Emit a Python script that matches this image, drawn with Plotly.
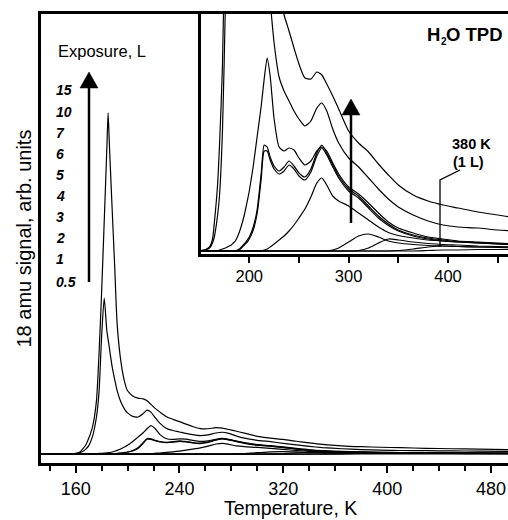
import plotly.graph_objects as go

# Temperature grid (K) shared by all TPD traces
temperature = [130, 145, 155, 160, 163, 165, 168, 170, 173, 176,
               178, 180, 182, 184, 185, 186, 188, 190, 192, 195,
               198, 200, 204, 208, 212, 215, 218, 221, 225, 230,
               235, 240, 245, 250, 256, 262, 268, 273, 278, 284,
               290, 300, 310, 320, 330, 340, 350, 365, 380, 395,
               410, 430, 450, 470, 495]

# 18 amu desorption signal (arb. units) for each water exposure (L)
sig_15 = [0, 0, 1, 4, 12, 30, 65, 105, 185, 360,
          680, 1100, 1580, 2070, 2320, 2100, 1690, 1290, 880, 620,
          480, 430, 395, 380, 375, 362, 338, 312, 285, 254,
          236, 220, 203, 187, 173, 172, 179, 176, 167, 155,
          142, 120, 108, 99, 87, 76, 66, 56, 50, 46,
          43, 39, 36, 33, 30]
sig_10 = [0, 0, 1, 3, 8, 15, 35, 55, 120, 250,
          420, 800, 1060, 840, 780, 720, 600, 510, 430, 350,
          300, 280, 256, 252, 275, 298, 285, 250, 208, 174,
          160, 150, 140, 132, 125, 130, 143, 148, 140, 122,
          108, 93, 84, 73, 62, 52, 44, 36, 30, 26,
          24, 23, 21, 20, 18]
sig_7 = [0, 0, 0, 0, 0, 0, 0, 1, 2, 3,
         4, 5, 6, 8, 9, 10, 14, 19, 25, 36,
         50, 60, 85, 115, 145, 172, 193, 175, 132, 104,
         100, 103, 101, 93, 86, 90, 100, 104, 100, 88,
         77, 64, 57, 48, 38, 29, 23, 18, 14, 12,
         10, 9, 8, 7, 6]
sig_6 = [0, 0, 0, 0, 0, 0, 0, 0, 0, 0,
         0, 0, 0, 0, 0, 0, 1, 2, 4, 7,
         11, 14, 24, 42, 78, 106, 104, 94, 85, 80,
         84, 90, 85, 78, 74, 82, 98, 106, 98, 86,
         75, 62, 55, 45, 35, 27, 21, 16, 13, 11,
         9.5, 8.5, 7.5, 6.5, 5.5]
sig_5 = [0, 0, 0, 0, 0, 0, 0, 0, 0, 0,
         0, 0, 0, 0, 0, 0, 0, 1, 3, 6,
         9, 12, 21, 38, 72, 100, 100, 91, 82, 77,
         80, 86, 82, 75, 71, 79, 95, 103, 96, 84,
         73, 60, 53, 43, 33, 25.5, 20, 15, 12, 10,
         9, 8, 7, 6, 5]
sig_4 = [0, 0, 0, 0, 0, 0, 0, 0, 0, 0,
         0, 0, 0, 0, 0, 0, 0, 0, 0, 0,
         0, 0, 0, 0, 0, 1, 2, 4, 7, 11,
         15, 20, 26, 33, 42, 54, 68, 73, 66, 55,
         50, 45, 38, 31, 24, 18.5, 15.5, 13, 11, 10,
         9, 8, 7, 6, 5]
sig_3 = [0, 0, 0, 0, 0, 0, 0, 0, 0, 0,
         0, 0, 0, 0, 0, 0, 0, 0, 0, 0,
         0, 0, 0, 0, 0, 0, 0, 0, 0, 0,
         0, 0, 0, 0, 0, 0, 0, 0, 0, 1,
         3, 9, 15, 17, 14, 10, 8, 6.5, 5.5, 5,
         4.5, 4, 4, 3.5, 3]
sig_2 = [0, 0, 0, 0, 0, 0, 0, 0, 0, 0,
         0, 0, 0, 0, 0, 0, 0, 0, 0, 0,
         0, 0, 0, 0, 0, 0, 0, 0, 0, 0,
         0, 0, 0, 0, 0, 0, 0, 0, 0, 0,
         0, 0, 0.5, 3, 8, 12, 11, 9, 7.5, 6.5,
         6, 5, 4.5, 4, 3.5]
sig_1 = [0, 0, 0, 0, 0, 0, 0, 0, 0, 0,
         0, 0, 0, 0, 0, 0, 0, 0, 0, 0,
         0, 0, 0, 0, 0, 0, 0, 0, 0, 0,
         0, 0, 0, 0, 0, 0, 0, 0, 0, 0,
         0, 0, 0, 0, 0, 0, 0.5, 2, 4, 5,
         4.5, 4, 3.5, 3, 3]
sig_05 = [0, 0, 0, 0, 0, 0, 0, 0, 0, 0,
          0, 0, 0, 0, 0, 0, 0, 0, 0, 0,
          0, 0, 0, 0, 0, 0, 0, 0, 0, 0,
          0, 0, 0, 0, 0, 0, 0, 0, 0, 0,
          0, 0, 0, 0, 0, 0, 0, 0, 0.5, 1,
          1, 1.5, 1.5, 1.5, 1.5]

series = [sig_15, sig_10, sig_7, sig_6, sig_5, sig_4, sig_3, sig_2, sig_1, sig_05]
exposure_labels = ["15", "10", "7", "6", "5", "4", "3", "2", "1", "0.5"]

main_ticks = [160, 240, 320, 400, 480]
inset_ticks = [200, 300, 400]

W, H = 508, 520
ML, MR, MT, MB = 41, 0, 14, 57
PW, PH = W - ML - MR, H - MT - MB


def px(x, y):
    """Convert a position in page pixels to paper coordinates."""
    return (x - ML) / PW, (H - MB - y) / PH


FONT = "Liberation Sans, Arial, sans-serif"

fig = go.Figure()
for sig in series:
    for xa, ya in (("x", "y"), ("x2", "y2")):
        fig.add_trace(go.Scatter(
            x=temperature, y=sig, mode="lines", xaxis=xa, yaxis=ya,
            line=dict(color="black", width=1.2, shape="spline", smoothing=0.6),
            hoverinfo="skip", showlegend=False))

ix0, _ = px(200.5, 0)
_, iy0 = px(0, 253.5)

fig.update_layout(
    width=W, height=H,
    margin=dict(l=ML, r=MR, t=MT, b=MB),
    paper_bgcolor="white", plot_bgcolor="white",
    font=dict(family=FONT, color="black"),
    showlegend=False,
    xaxis=dict(domain=[0, 1], range=[133.3, 493.1], showline=True, linewidth=3,
               linecolor="black", mirror=True, ticks="outside", ticklen=7, tickwidth=1.5,
               tickcolor="black", tickmode="array", tickvals=main_ticks,
               tickfont=dict(size=18), showgrid=False, zeroline=False,
               minor=dict(ticks="outside", ticklen=5, tickwidth=1.5, tickcolor="black",
                          tickmode="linear", tick0=160, dtick=20, showgrid=False)),
    yaxis=dict(domain=[0, 1], range=[-61, 2992], showline=True, linewidth=3,
               linecolor="black", ticks="", showticklabels=False, showgrid=False,
               zeroline=False),
    xaxis2=dict(domain=[ix0, 1], anchor="y2", range=[150.9, 460.4], showline=True,
                linewidth=3, linecolor="black", ticks="outside", ticklen=6, tickwidth=1.5,
                tickcolor="black", tickmode="array", tickvals=inset_ticks,
                tickfont=dict(size=16.5), showgrid=False, zeroline=False,
                minor=dict(ticks="outside", ticklen=6, tickwidth=1.5, tickcolor="black",
                           tickmode="linear", tick0=200, dtick=50, showgrid=False)),
    yaxis2=dict(domain=[iy0, 1], anchor="x2", range=[-2.5, 237], showline=True,
                linewidth=3, linecolor="black", ticks="", showticklabels=False,
                showgrid=False, zeroline=False),
)

annotations = []


def add_text(text, x, y, size, xanchor="center", yanchor="middle", angle=0):
    ax, ay = px(x, y)
    annotations.append(dict(text=text, x=ax, y=ay, xref="paper", yref="paper",
                            showarrow=False, xanchor=xanchor, yanchor=yanchor,
                            textangle=angle, font=dict(size=size, family=FONT, color="black"),
                            borderpad=0))


add_text("18 amu signal, arb. units", 23, 238.5, 20, angle=-90)
add_text("Temperature, K", 290, 508, 19.5)
add_text("Exposure, L", 57, 51, 16.5, xanchor="left")
label_y = [90, 112, 133, 154, 175, 196, 217, 238, 259, 282]
for lab, yy in zip(exposure_labels, label_y):
    add_text("<b><i>%s</i></b>" % lab, 55, yy, 14, xanchor="left")
# inset title: "H", a smaller lowered "2", then "O TPD"
add_text("<b>H</b>", 426, 35, 18.5, xanchor="left")
add_text("<b>2</b>", 439.5, 41, 10, xanchor="left")
add_text("<b>O TPD</b>", 504, 35, 18.5, xanchor="right")
add_text("<b>380 K</b>", 471, 143.5, 14.5)
add_text("<b>(1 L)</b>", 468, 161.5, 14.5)

shapes = []


def path_px(points, closed=False):
    parts = []
    for i, (x, y) in enumerate(points):
        a, b = px(x, y)
        parts.append(("M" if i == 0 else "L") + " %.5f %.5f" % (a, b))
    return " ".join(parts) + (" Z" if closed else "")


# exposure arrows: shaft plus filled head
for xc, y_bot, y_tip in ((89, 282, 72), (351, 223, 99)):
    shapes.append(dict(type="path", xref="paper", yref="paper",
                       path=path_px([(xc, y_bot), (xc, y_tip + 14)]),
                       line=dict(color="black", width=2.5)))
    shapes.append(dict(type="path", xref="paper", yref="paper",
                       path=path_px([(xc, y_tip), (xc - 9, y_tip + 16), (xc + 9, y_tip + 16)],
                                    closed=True),
                       fillcolor="black", line=dict(color="black", width=0.5)))

# leader line for the 380 K feature
shapes.append(dict(type="path", xref="paper", yref="paper",
                   path=path_px([(460, 170), (440, 180), (440, 247)]),
                   line=dict(color="black", width=1.3)))

fig.update_layout(annotations=annotations, shapes=shapes)
fig.write_html("out.html")
